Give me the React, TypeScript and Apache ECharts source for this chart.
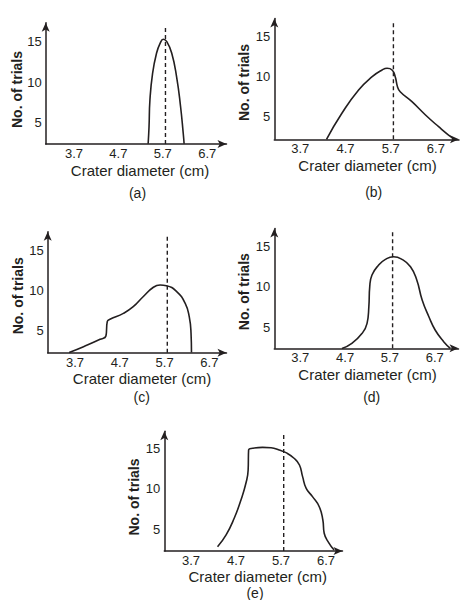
import React, { useEffect, useRef } from "react";
import * as echarts from "echarts";

// ---- data ----
const xTickLabels = [3.7, 4.7, 5.7, 6.7];
const yTickLabels = [5, 10, 15];
const meanDiameter = 5.76; // dashed reference line
const dashedTop = 16.85;
const panelLabels = ["(a)", "(b)", "(c)", "(d)", "(e)"];
const xAxisTitle = "Crater diameter (cm)";
const yAxisTitle = "No. of trials";

const curveA = [
  [5.37, 2.4], [5.39, 4.5], [5.41, 7.8], [5.47, 11.1], [5.56, 13.6], [5.64, 14.8],
  [5.71, 15.3], [5.79, 15.0], [5.9, 13.6], [6.01, 10.7], [6.1, 7.0], [6.16, 3.7], [6.18, 2.4],
];
const curveB = [
  [4.28, 2.2], [4.62, 5.42], [4.99, 8.31], [5.29, 9.96], [5.51, 10.79], [5.62, 11.0],
  [5.73, 10.79], [5.8, 9.96], [5.85, 8.72], [5.91, 8.1], [6.17, 6.86], [6.47, 5.21],
  [6.76, 3.76], [6.98, 2.73], [7.12, 2.2],
];
const curveC = [
  [3.57, 2.3], [3.89, 3.02], [4.26, 3.93], [4.39, 4.34], [4.42, 6.12], [4.48, 6.41],
  [4.78, 7.15], [5.0, 7.97], [5.22, 9.21], [5.45, 10.38], [5.6, 10.66], [5.74, 10.58],
  [5.97, 9.84], [6.16, 8.39], [6.25, 6.74], [6.29, 4.68], [6.3, 2.3],
];
const curveD = [
  [4.63, 2.4], [4.85, 3.03], [5.08, 4.26], [5.19, 5.49], [5.23, 7.53], [5.25, 10.0],
  [5.3, 11.43], [5.45, 12.66], [5.6, 13.36], [5.78, 13.68], [5.97, 13.36], [6.16, 12.45],
  [6.3, 10.82], [6.42, 8.36], [6.57, 6.3], [6.71, 4.67], [6.9, 3.23], [7.05, 2.4],
];
const curveE = [
  [4.29, 2.85], [4.48, 4.3], [4.66, 6.36], [4.81, 8.62], [4.92, 10.68], [4.97, 12.32],
  [4.98, 14.79], [5.07, 15.0], [5.29, 15.12], [5.48, 15.07], [5.66, 14.79], [5.81, 14.46],
  [5.99, 13.77], [6.11, 12.94], [6.18, 11.5], [6.26, 10.06], [6.4, 9.03], [6.55, 7.79],
  [6.63, 6.15], [6.66, 4.51], [6.77, 3.27], [6.88, 2.44],
];
const curves = [curveA, curveB, curveC, curveD, curveE];

// ---- layout (pixel calibration of each panel) ----
const panels = [
  { axisX: 45.7, axisY: 144, tipX: 231, tipY: 18.3, x37: 74, y15: 41.7, pxX: 44.4, pxY: 8.1,
    yName: [17, 89.5], xName: [140, 170], tag: [137.5, 193.3] },
  { axisX: 274.3, axisY: 139.3, tipX: 463.5, tipY: 14, x37: 300.3, y15: 36, pxX: 45.2, pxY: 8.07,
    yName: [244, 82.5], xName: [367.5, 165.5], tag: [373.7, 191.7] },
  { axisX: 47.7, axisY: 352.7, tipX: 231, tipY: 227.3, x37: 75, y15: 250, pxX: 44.8, pxY: 8.07,
    yName: [18.3, 295.8], xName: [142, 378], tag: [141.7, 397] },
  { axisX: 274.3, axisY: 348.3, tipX: 463, tipY: 224, x37: 300.3, y15: 246, pxX: 44.8, pxY: 8.13,
    yName: [243.7, 291.7], xName: [367.5, 374.5], tag: [371.7, 396.7] },
  { axisX: 164.3, axisY: 551, tipX: 347, tipY: 426.7, x37: 191, y15: 448.3, pxX: 45, pxY: 8.1,
    yName: [134, 497], xName: [257.7, 576.5], tag: [255, 593] },
];

const INK = "#231f20";
const FONT = "'Liberation Sans', Arial, Helvetica, sans-serif";
const ARROW = 9;

export default function App() {
  const ref = useRef<HTMLDivElement>(null);

  useEffect(() => {
    if (!ref.current) return;
    const chart = echarts.init(ref.current, null, { renderer: "svg" });

    const geo = panels.map((p) => {
      const left = p.axisX;
      const right = p.tipX - ARROW / 2;
      const top = p.tipY + ARROW / 2;
      const bottom = p.axisY;
      return {
        left, right, top, bottom,
        xMin: 3.7 - (p.x37 - left) / p.pxX,
        xMax: 3.7 + (right - p.x37) / p.pxX,
        yMin: 15 - (bottom - p.y15) / p.pxY,
        yMax: 15 + (p.y15 - top) / p.pxY,
      };
    });

    const axisLine = (sym: string[]) => ({
      show: true,
      onZero: false,
      symbol: sym,
      symbolSize: [6, ARROW],
      lineStyle: { color: INK, width: 1.5 },
    });

    const series: any[] = [];
    curves.forEach((c, i) => {
      series.push({
        type: "line",
        xAxisIndex: i,
        yAxisIndex: i,
        data: c,
        smooth: 0.5,
        showSymbol: false,
        symbol: "none",
        lineStyle: { color: INK, width: 1.6 },
      });
      series.push({
        type: "line",
        xAxisIndex: i,
        yAxisIndex: i,
        data: [[meanDiameter, geo[i].yMin], [meanDiameter, dashedTop]],
        showSymbol: false,
        symbol: "none",
        lineStyle: { color: INK, width: 1.4, type: [4, 3] },
      });
    });

    const graphic: any[] = [];
    panels.forEach((p, i) => {
      graphic.push({
        type: "text",
        x: p.yName[0],
        y: p.yName[1],
        rotation: Math.PI / 2,
        style: {
          text: yAxisTitle, align: "center", verticalAlign: "middle",
          font: `bold 14px ${FONT}`, fill: INK,
        },
      });
      graphic.push({
        type: "text",
        x: p.xName[0],
        y: p.xName[1],
        style: {
          text: xAxisTitle, align: "center", verticalAlign: "middle",
          font: `15px ${FONT}`, fill: INK,
        },
      });
      graphic.push({
        type: "text",
        x: p.tag[0],
        y: p.tag[1],
        style: {
          text: panelLabels[i], align: "center", verticalAlign: "middle",
          font: `14px ${FONT}`, fill: INK,
        },
      });
    });

    chart.setOption({
      animation: false,
      backgroundColor: "#ffffff",
      grid: geo.map((g) => ({
        left: g.left,
        top: g.top,
        width: g.right - g.left,
        height: g.bottom - g.top,
        containLabel: false,
        outerBoundsMode: "none",
      })),
      xAxis: geo.map((g, i) => ({
        type: "value",
        gridIndex: i,
        min: g.xMin,
        max: g.xMax,
        axisLine: axisLine(["none", "arrow"]),
        axisTick: { show: false, customValues: xTickLabels },
        splitLine: { show: false },
        axisLabel: {
          customValues: xTickLabels,
          formatter: (v: number) => v.toFixed(1),
          margin: 3,
          fontSize: 13,
          fontFamily: FONT,
          color: INK,
        },
      })),
      yAxis: geo.map((g, i) => ({
        type: "value",
        gridIndex: i,
        min: g.yMin,
        max: g.yMax,
        axisLine: axisLine(["none", "arrow"]),
        axisTick: { show: false, customValues: yTickLabels },
        splitLine: { show: false },
        axisLabel: {
          customValues: yTickLabels,
          formatter: (v: number) => String(Math.round(v)),
          margin: 4,
          fontSize: 13,
          fontFamily: FONT,
          color: INK,
        },
      })),
      series,
      graphic,
    });

    return () => chart.dispose();
  }, []);

  return (
    <div
      ref={ref}
      style={{ position: "fixed", left: 0, top: 0, width: 464, height: 600, background: "#fff" }}
    />
  );
}
